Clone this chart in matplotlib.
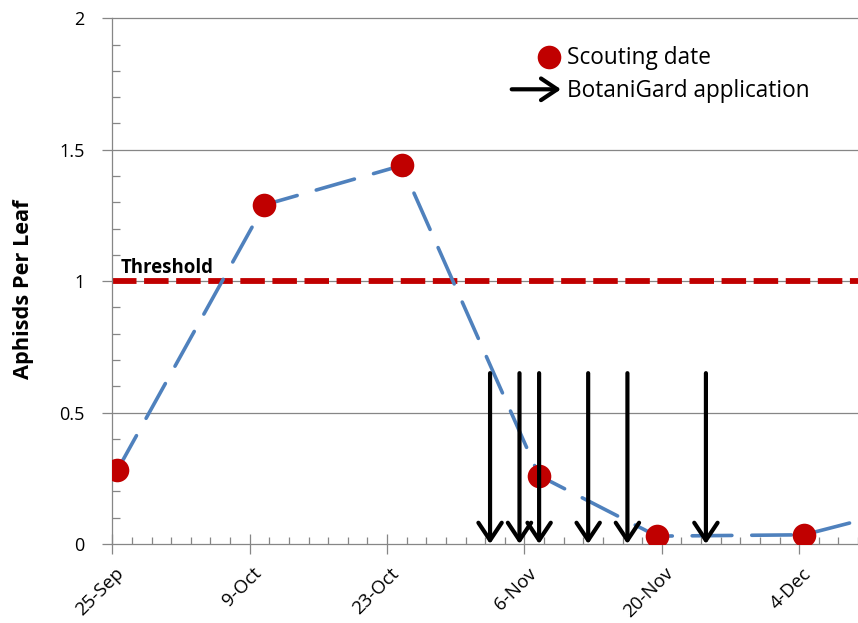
import matplotlib
matplotlib.use("Agg")
import matplotlib.pyplot as plt
import matplotlib.dates as mdates
from matplotlib.ticker import MultipleLocator, NullFormatter
from matplotlib.transforms import ScaledTranslation
import numpy as np

# ---------------- data ----------------
scout_dates = np.array(["2012-09-25", "2012-10-10", "2012-10-24", "2012-11-07",
                        "2012-11-19", "2012-12-04", "2012-12-18"], dtype="datetime64[D]")
aphids_per_leaf = [0.28, 1.29, 1.44, 0.26, 0.03, 0.035, 0.17]
spray_dates = np.array(["2012-11-02", "2012-11-05", "2012-11-07", "2012-11-12",
                        "2012-11-16", "2012-11-24"], dtype="datetime64[D]")
threshold = 1.0
tick_dates = np.array(["2012-09-25", "2012-10-09", "2012-10-23", "2012-11-06",
                       "2012-11-20", "2012-12-04"], dtype="datetime64[D]")
tick_labels = ["25-Sep", "9-Oct", "23-Oct", "6-Nov", "20-Nov", "4-Dec"]
x_range = np.array(["2012-09-25", "2012-12-10"], dtype="datetime64[D]")

# ---------------- style ----------------
FONT = ["Open Sans", "DejaVu Sans"]
plt.rcParams["font.family"] = FONT
GRAY = "#868686"
RED = "#C00000"
BLUE = "#4F81BD"
HALF_DAY = 0.5      # Excel date axis centres points within the day
ARROW_TOP = 0.65

W, H = 858, 623
fig = plt.figure(figsize=(W / 100, H / 100), dpi=100)
ax = fig.add_axes([112.3 / W, 79 / H, 1 - 112.3 / W, (544 - 18.3) / H])

xs = mdates.date2num(scout_dates) + HALF_DAY
xa = mdates.date2num(spray_dates) + HALF_DAY
x0, x1 = mdates.date2num(x_range)

# grid
for y in [0.5, 1.0, 1.5, 2.0]:
    ax.axhline(y, color=GRAY, lw=0.9, zorder=1, clip_on=False)

# threshold
ax.axhline(threshold, color=RED, lw=4.2, dashes=(4.2, 1.3), zorder=2)
ax.text(x0 + 0.85, threshold + 0.032, "Threshold", fontsize=13.4, fontweight="bold",
        color="black", ha="left", va="baseline", zorder=5)

# scouting line
ax.plot(xs, aphids_per_leaf, color=BLUE, lw=2.6, dashes=(11, 5.5),
        dash_capstyle="round", zorder=3)
ax.plot(xs, aphids_per_leaf, ls="none", marker="o", ms=17, color=RED,
        markeredgewidth=0, zorder=4)

# application arrows
for x in xa:
    ax.annotate("", xy=(x, 0), xytext=(x, ARROW_TOP),
                arrowprops=dict(arrowstyle="->,head_length=0.9,head_width=0.6",
                                lw=3.0, color="black", shrinkA=0, shrinkB=0,
                                mutation_scale=14),
                zorder=6)

# axes
ax.set_xlim(x0, x1)
ax.set_ylim(0, 2)
for s in ["top", "right"]:
    ax.spines[s].set_visible(False)
for s in ["left", "bottom"]:
    ax.spines[s].set_color(GRAY)
    ax.spines[s].set_linewidth(0.9)

ax.set_xticks(mdates.date2num(tick_dates))
ax.set_xticklabels(tick_labels)
ax.xaxis.set_minor_locator(MultipleLocator(2, offset=x0 % 2))
ax.xaxis.set_minor_formatter(NullFormatter())
ax.tick_params(axis="x", which="major", direction="inout", length=14, width=0.9,
               color=GRAY, labelsize=13.5, pad=0)
ax.tick_params(axis="x", which="minor", direction="in", length=5, width=0.9, color=GRAY)
for lab in ax.get_xticklabels():
    lab.set_rotation(45)
    lab.set_ha("right")
    lab.set_va("center")
    lab.set_rotation_mode("anchor")
    lab.set_transform(lab.get_transform() + ScaledTranslation(0.09, -0.17, fig.dpi_scale_trans))

ax.set_yticks([0, 0.5, 1, 1.5, 2])
ax.set_yticklabels(["0", "0.5", "1", "1.5", "2"])
ax.yaxis.set_minor_locator(MultipleLocator(0.1))
ax.tick_params(axis="y", which="major", direction="out", length=7, width=0.9,
               color=GRAY, labelsize=13, pad=13)
ax.tick_params(axis="y", which="minor", direction="in", length=6, width=0.9, color=GRAY)

fig.text(24 / W, 1 - 289 / H, "Aphisds Per Leaf", rotation=90, fontsize=15.7,
         fontweight="bold", ha="center", va="center")

# manual legend
fig.lines.append(plt.Line2D([549 / W], [1 - 56.7 / H], transform=fig.transFigure,
                            marker="o", ms=17, color=RED, markeredgewidth=0, ls="none"))
fig.text(567 / W, 1 - 64 / H, "Scouting date", fontsize=16.3, ha="left", va="baseline")
fig.patches.append(matplotlib.patches.FancyArrowPatch(
    (511.7 / W, 1 - 89.3 / H), (561 / W, 1 - 89.3 / H), transform=fig.transFigure,
    arrowstyle="->,head_length=0.9,head_width=0.6", lw=3.0, color="black",
    mutation_scale=13, shrinkA=0, shrinkB=0))
fig.text(567 / W, 1 - 97.3 / H, "BotaniGard application", fontsize=16.3, ha="left",
         va="baseline")

fig.savefig("out.png", dpi=100)
